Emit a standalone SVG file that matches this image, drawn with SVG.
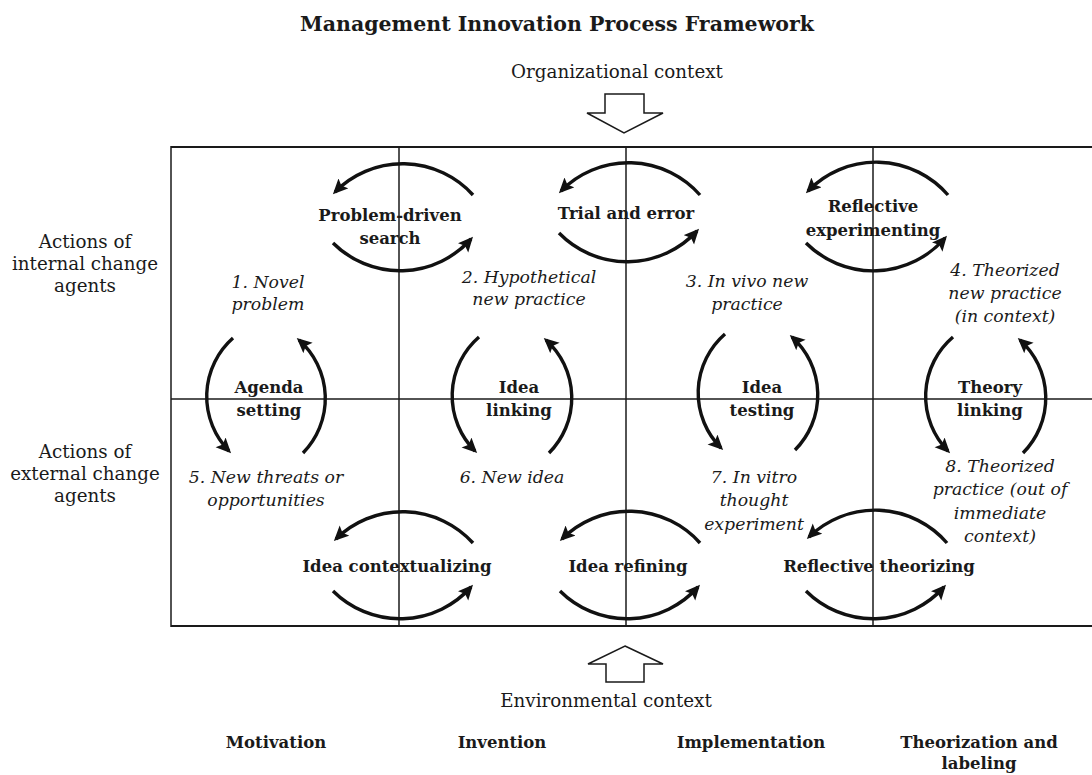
<svg xmlns="http://www.w3.org/2000/svg" width="1092" height="775" viewBox="0 0 1092 775">
<style>
  text { font-family: "DejaVu Serif", "Liberation Serif", serif; fill: #1a1a1a; text-anchor: middle; }
  .title { font-size: 20.5px; font-weight: bold; }
  .reg { font-size: 18.3px; }
  .it { font-size: 17.3px; font-style: italic; }
  .bold { font-size: 16.5px; font-weight: bold; }
  .phase { font-size: 16.5px; font-weight: bold; }
  .grid line { stroke: #1a1a1a; stroke-width: 1.5; }
  .arc { fill: none; stroke: #111; stroke-width: 3.4; marker-end: url(#ah); }
  .block { fill: #fff; stroke: #1a1a1a; stroke-width: 1.5; stroke-linejoin: miter; }
</style>
<defs>
  <marker id="ah" markerUnits="userSpaceOnUse" markerWidth="18" markerHeight="16" refX="12" refY="7" orient="auto">
    <path d="M0,0 L15,7 L0,14 L3,7 z" fill="#111"/>
  </marker>
</defs>
<rect width="1092" height="775" fill="#fff"/>

<g id="title"><text class="title" x="557" y="31">Management Innovation Process Framework</text></g>

<g class="grid" id="grid">
  <line x1="171" y1="147" x2="1092" y2="147" style="stroke-width:2"/>
  <line x1="171" y1="626" x2="1092" y2="626" style="stroke-width:2"/>
  <line x1="171" y1="399" x2="1092" y2="399"/>
  <line x1="171" y1="146" x2="171" y2="627"/>
  <line x1="399" y1="147" x2="399" y2="626"/>
  <line x1="626" y1="147" x2="626" y2="626"/>
  <line x1="873" y1="147" x2="873" y2="626"/>
</g>

<g id="org-context">
  <text class="reg" x="617" y="78">Organizational context</text>
  <path class="block" d="M605,94 L644,94 L644,113 L663,113 L624,133 L587,113 L605,113 Z"/>
</g>
<g id="env-context">
  <path class="block" d="M625,646 L663,664 L644,664 L644,682 L606,682 L606,664 L588,664 Z"/>
  <text class="reg" x="606" y="707">Environmental context</text>
</g>

<g id="row-internal"><text class="reg" x="85" y="248">Actions of</text><text class="reg" x="85" y="270">internal change</text><text class="reg" x="85" y="292">agents</text></g>
<g id="row-external"><text class="reg" x="85" y="458">Actions of</text><text class="reg" x="85" y="480">external change</text><text class="reg" x="85" y="502">agents</text></g>

<g id="connectors">
  <path class="arc" d="M473,195 A95,95 0 0 0 335,192"/>
  <path class="arc" d="M333,243 A95,95 0 0 0 471,239"/>
  <path class="arc" d="M700,195 A95,95 0 0 0 561,191"/>
  <path class="arc" d="M559,233 A95,95 0 0 0 697,231"/>
  <path class="arc" d="M948,195 A95,95 0 0 0 808,191"/>
  <path class="arc" d="M806,243 A95,95 0 0 0 945,238"/>

  <path class="arc" d="M233,338 A78,78 0 0 0 229,451"/>
  <path class="arc" d="M303,453 A78,78 0 0 0 299,340"/>
  <path class="arc" d="M479,337 A78,78 0 0 0 475,451"/>
  <path class="arc" d="M549,453 A78,78 0 0 0 546,340"/>
  <path class="arc" d="M725,334 A78,78 0 0 0 721,448"/>
  <path class="arc" d="M795,450 A78,78 0 0 0 792,337"/>
  <path class="arc" d="M953,337 A78,78 0 0 0 948,451"/>
  <path class="arc" d="M1023,453 A78,78 0 0 0 1020,340"/>

  <path class="arc" d="M473,543 A95,95 0 0 0 336,539"/>
  <path class="arc" d="M333,591 A95,95 0 0 0 471,587"/>
  <path class="arc" d="M700,543 A95,95 0 0 0 562,539"/>
  <path class="arc" d="M560,591 A95,95 0 0 0 698,587"/>
  <path class="arc" d="M947,543 A95,95 0 0 0 809,537"/>
  <path class="arc" d="M806,591 A95,95 0 0 0 944,587"/>
</g>

<g id="problem-driven-search"><text class="bold" x="390" y="221">Problem-driven</text><text class="bold" x="390" y="244">search</text></g>
<g id="trial-and-error"><text class="bold" x="626" y="219">Trial and error</text></g>
<g id="reflective-experimenting"><text class="bold" x="873" y="212">Reflective</text><text class="bold" x="873" y="236">experimenting</text></g>

<g id="agenda-setting"><text class="bold" x="269" y="393">Agenda</text><text class="bold" x="269" y="416">setting</text></g>
<g id="idea-linking"><text class="bold" x="519" y="393">Idea</text><text class="bold" x="519" y="416">linking</text></g>
<g id="idea-testing"><text class="bold" x="762" y="393">Idea</text><text class="bold" x="762" y="416">testing</text></g>
<g id="theory-linking"><text class="bold" x="990" y="393">Theory</text><text class="bold" x="990" y="416">linking</text></g>

<g id="idea-contextualizing"><text class="bold" x="397" y="572">Idea contextualizing</text></g>
<g id="idea-refining"><text class="bold" x="628" y="572">Idea refining</text></g>
<g id="reflective-theorizing"><text class="bold" x="879" y="572">Reflective theorizing</text></g>

<g id="s1"><text class="it" x="268" y="288">1. Novel</text><text class="it" x="268" y="310">problem</text></g>
<g id="s2"><text class="it" x="529" y="283">2. Hypothetical</text><text class="it" x="529" y="305">new practice</text></g>
<g id="s3"><text class="it" x="747" y="287">3. In vivo new</text><text class="it" x="747" y="310">practice</text></g>
<g id="s4"><text class="it" x="1005" y="276">4. Theorized</text><text class="it" x="1005" y="299">new practice</text><text class="it" x="1005" y="322">(in context)</text></g>
<g id="s5"><text class="it" x="266" y="483">5. New threats or</text><text class="it" x="266" y="506">opportunities</text></g>
<g id="s6"><text class="it" x="512" y="483">6. New idea</text></g>
<g id="s7"><text class="it" x="754" y="483">7. In vitro</text><text class="it" x="754" y="506">thought</text><text class="it" x="754" y="530">experiment</text></g>
<g id="s8"><text class="it" x="1000" y="472">8. Theorized</text><text class="it" x="1000" y="495">practice (out of</text><text class="it" x="1000" y="519">immediate</text><text class="it" x="1000" y="542">context)</text></g>

<g id="phases">
  <text class="phase" x="276" y="748">Motivation</text>
  <text class="phase" x="502" y="748">Invention</text>
  <text class="phase" x="751" y="748">Implementation</text>
  <text class="phase" x="979" y="748">Theorization and</text>
  <text class="phase" x="979" y="769">labeling</text>
</g>
</svg>
